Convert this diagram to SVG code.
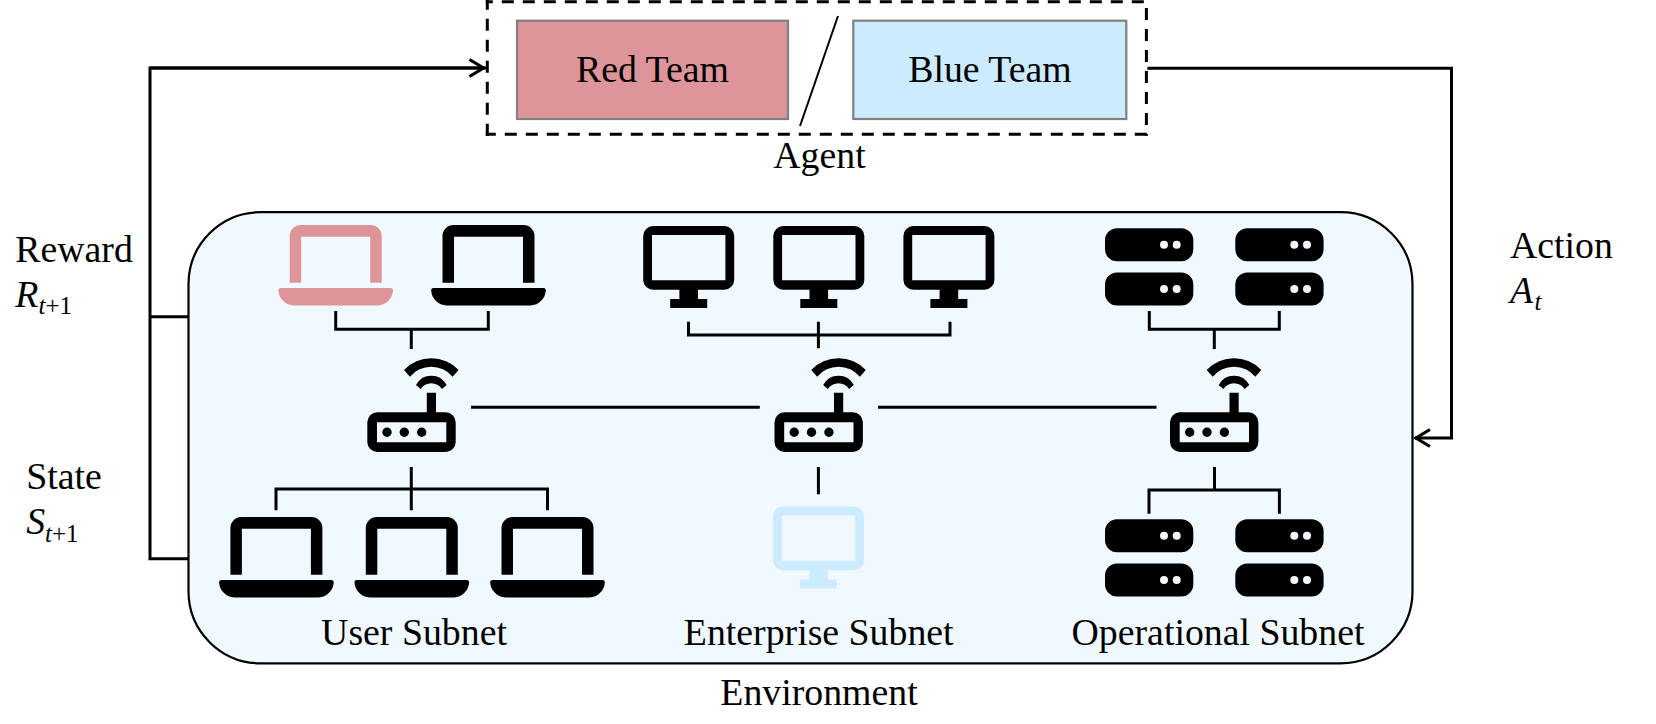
<svg xmlns="http://www.w3.org/2000/svg" xmlns:xlink="http://www.w3.org/1999/xlink" width="1656" height="724" viewBox="0 0 1656 724">
<style>
text{font-family:"Liberation Serif","Times New Roman",serif;font-size:37.8px;fill:#000}
.c{text-anchor:middle}
.i{font-style:italic}
.s{font-size:25px}
.line{fill:none;stroke:#000;stroke-width:3}
.thin{fill:none;stroke:#000;stroke-width:3}
.dash{fill:none;stroke:#000;stroke-width:3;stroke-dasharray:12 9}
.team{stroke:#808080;stroke-width:2.2}
</style>
<defs>
<marker id="open" markerUnits="userSpaceOnUse" markerWidth="22" markerHeight="24" refX="17" refY="12" orient="auto">
<path d="M2 3.500L16 12L2 20.500" fill="none" stroke="#000" stroke-width="3.2"/>
</marker>
<g id="laptop">
<path d="M-46 57.700V11A11 11 0 0 1-35 0H35A11 11 0 0 1 46 11V57.700H34.500V11.700H-34.500V57.700Z"/>
<path d="M-55 63H55A2.300 2.300 0 0 1 57.300 65.300C57.300 73 50 80.500 42 80.500H-42C-50 80.500-57.300 73-57.300 65.300A2.300 2.300 0 0 1-55 63Z"/>
</g>
<g id="monitor">
<path fill-rule="evenodd" d="M-35.500 0H35.500A10 10 0 0 1 45.500 10V53.700A10 10 0 0 1 35.500 63.700H9.300V73H18.500V82H-18.500V73H-9.300V63.700H-35.500A10 10 0 0 1-45.500 53.700V10A10 10 0 0 1-35.500 0ZM-36.700 9V54.300H36.700V9Z"/>
</g>
<g id="server">
<path fill-rule="evenodd" d="M12 0H76.300A12 12 0 0 1 88.300 12V21A12 12 0 0 1 76.300 33H12A12 12 0 0 1 0 21V12A12 12 0 0 1 12 0ZM63 16.500a4 4 0 1 0-8 0a4 4 0 1 0 8 0ZM75.700 16.500a4 4 0 1 0-8 0a4 4 0 1 0 8 0Z"/>
</g>
<g id="serverpair">
<use xlink:href="#server" href="#server"/>
<use xlink:href="#server" href="#server" y="44.300"/>
</g>
<g id="router">
<path fill-rule="evenodd" d="M-34.200 0H15.300V-19.600H24.500V0H34.200A10 10 0 0 1 44.200 10V29.700A10 10 0 0 1 34.200 39.700H-34.200A10 10 0 0 1-44.200 29.700V10A10 10 0 0 1-34.200 0ZM-34.500 10V30H34.800V10ZM-19.800 20a4.700 4.700 0 1 0-9.400 0a4.700 4.700 0 1 0 9.400 0ZM-2.500 20a4.700 4.700 0 1 0-9.400 0a4.700 4.700 0 1 0 9.400 0ZM14.900 20a4.700 4.700 0 1 0-9.400 0a4.700 4.700 0 1 0 9.400 0Z"/>
<path d="M-7.500-42.300A37.700 37.700 0 0 1 47.100-42.300L41.100-35.600A27.700 27.700 0 0 0-1.500-35.600Z"/>
<path d="M4.500-27.300A17.200 17.200 0 0 1 35.100-27.300L30.400-23.300A12.700 12.700 0 0 0 9.200-23.300Z"/>
</g>
</defs>

<g id="connectors">
<path class="line" d="M150 68H484.500" marker-end="url(#open)"/>
<path class="line" d="M486 68H150V558.700H188.500M150 316.700H188.500"/>
<path class="line" d="M1147.400 68.300H1451.500V438H1415" marker-end="url(#open)"/>
</g>

<g id="agent">
<path class="dash" d="M485.800 1.700H1146.400" stroke-dashoffset="5"/>
<path class="dash" d="M485.800 134.300H1147.900" stroke-dashoffset="2"/>
<path class="dash" d="M487.300 135.800V0"/>
<path class="dash" d="M1146.400 0V135.800" stroke-dashoffset="13"/>
<path d="M800 126L838 16" fill="none" stroke="#000" stroke-width="2"/>
</g>
<g id="red-team">
<rect class="team" x="517" y="20.700" width="271" height="98.300" fill="#DE9599"/>
<text class="c" x="652.500" y="82.300">Red Team</text>
</g>
<g id="blue-team">
<rect class="team" x="853.300" y="20.700" width="273" height="98.300" fill="#CCEBFF"/>
<text class="c" x="990" y="82.300">Blue Team</text>
</g>
<text id="agent-label" class="c" x="819.500" y="167.700">Agent</text>

<g id="environment">
<rect x="188.500" y="212.200" width="1224" height="451.100" rx="72" ry="72" fill="#F0F9FF" stroke="#000" stroke-width="2.200"/>
</g>

<g id="links">
<path class="thin" d="M335.700 311V329.300H488.300V311M411.300 329.300V349"/>
<path class="thin" d="M688.500 321.700V335H950V321.700M818.400 321.700V348.300"/>
<path class="thin" d="M1149.300 311V329.300H1279.300V311M1214.300 329.300V349"/>
<path class="thin" d="M471 407.300H759.800M878 407.300H1156.500"/>
<path class="thin" d="M411.300 467V510.300M276 510.300V489H547.500V510.300"/>
<path class="thin" d="M818.400 467V494.300"/>
<path class="thin" d="M1214.500 467V490M1149 513.700V490H1279.400V513.700"/>
</g>

<g id="user-top-red" fill="#DE9599"><use xlink:href="#laptop" href="#laptop" x="335.700" y="225"/></g>
<g id="user-top-black"><use xlink:href="#laptop" href="#laptop" x="488.500" y="225"/></g>
<g id="ent-top-1"><use xlink:href="#monitor" href="#monitor" x="688.700" y="226"/></g>
<g id="ent-top-2"><use xlink:href="#monitor" href="#monitor" x="818.800" y="226"/></g>
<g id="ent-top-3"><use xlink:href="#monitor" href="#monitor" x="948.900" y="226"/></g>
<g id="op-top-1"><use xlink:href="#serverpair" href="#serverpair" x="1105" y="228.300"/></g>
<g id="op-top-2"><use xlink:href="#serverpair" href="#serverpair" x="1235.300" y="228.300"/></g>
<g id="router-user"><use xlink:href="#router" href="#router" x="411.500" y="412.300"/></g>
<g id="router-enterprise"><use xlink:href="#router" href="#router" x="818.700" y="412.300"/></g>
<g id="router-operational"><use xlink:href="#router" href="#router" x="1214.200" y="412.300"/></g>
<g id="user-bottom-1"><use xlink:href="#laptop" href="#laptop" x="276.400" y="517"/></g>
<g id="user-bottom-2"><use xlink:href="#laptop" href="#laptop" x="411.800" y="517"/></g>
<g id="user-bottom-3"><use xlink:href="#laptop" href="#laptop" x="547.500" y="517"/></g>
<g id="ent-bottom" fill="#CCEBFF"><use xlink:href="#monitor" href="#monitor" x="818.500" y="506.500"/></g>
<g id="op-bottom-1"><use xlink:href="#serverpair" href="#serverpair" x="1105" y="519.300"/></g>
<g id="op-bottom-2"><use xlink:href="#serverpair" href="#serverpair" x="1235.300" y="519.300"/></g>

<g id="labels">
<text class="c" x="414" y="644.700">User Subnet</text>
<text class="c" x="818.700" y="644.700">Enterprise Subnet</text>
<text class="c" x="1218" y="644.700">Operational Subnet</text>
<text class="c" x="819" y="705.300">Environment</text>
<text x="15.300" y="261.700">Reward</text>
<text class="i" x="15.300" y="306.700">R</text>
<text class="s" x="38.500" y="314"><tspan class="i">t</tspan>+1</text>
<text x="26.200" y="488.700">State</text>
<text class="i" x="26.200" y="533.700">S</text>
<text class="s" x="45" y="542"><tspan class="i">t</tspan>+1</text>
<text x="1510" y="257.700">Action</text>
<text class="i" x="1510" y="302.700">A</text>
<text class="s i" x="1534.500" y="310">t</text>
</g>
</svg>
